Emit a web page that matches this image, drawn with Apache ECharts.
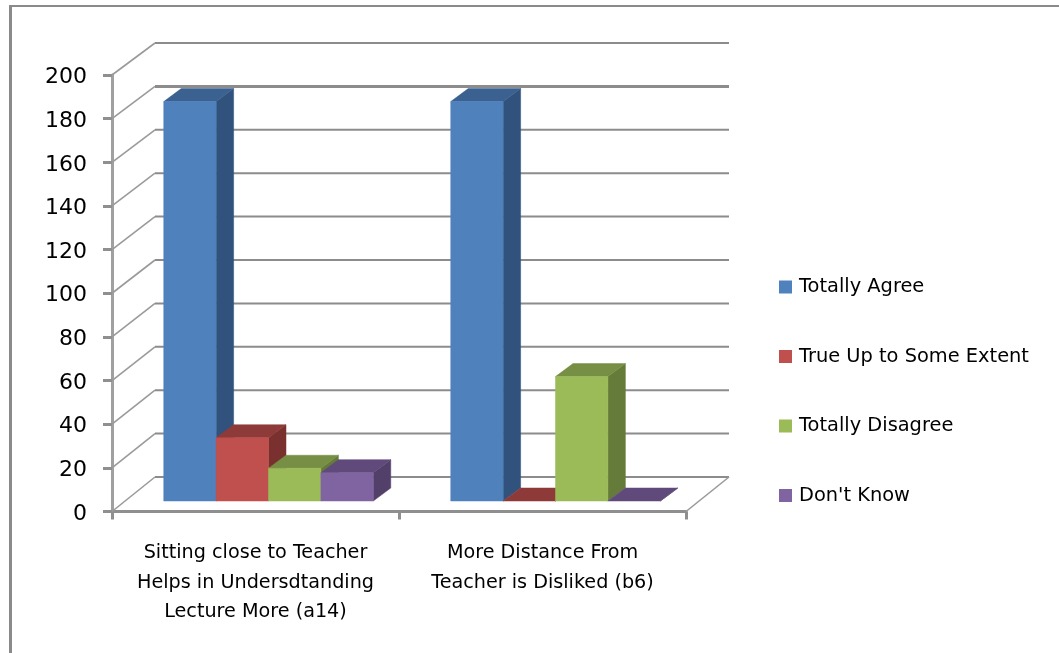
<!DOCTYPE html>
<html><head><meta charset="utf-8">
<style>html,body{margin:0;padding:0;background:#fff}#c{width:1059px;height:653px}</style>
<script src="https://cdn.jsdelivr.net/npm/echarts@6/dist/echarts.min.js"></script>
</head><body><div id="c"></div>
<script>
const categories = ["Sitting close to Teacher\nHelps in Undersdtanding\nLecture More (a14)", "More Distance From\nTeacher is Disliked (b6)"];
const totallyAgree = [183, 183];
const trueUpToSomeExtent = [29, 0];
const totallyDisagree = [15, 57];
const dontKnow = [13, 0];
const seriesNames = ["Totally Agree", "True Up to Some Extent", "Totally Disagree", "Don't Know"];
const yTicks = [0, 20, 40, 60, 80, 100, 120, 140, 160, 180, 200];

const FONT = '"DejaVu Sans"';
const palette = [
  {front:'#4F81BD', side:'#31527C', top:'#3B6190'},
  {front:'#C0504D', side:'#7A302E', top:'#8E3A38'},
  {front:'#9BBB59', side:'#657B39', top:'#768F45'},
  {front:'#8064A2', side:'#53406A', top:'#604A7B'}
];
const wallDx = 43, wallDy = -32;          // wall depth
const wallSquash = 2.5;                   // back wall is slightly shorter than the front plane
const barShiftX = 13, barShiftY = -10.5;  // bar position in depth
const barDx = 17.5, barDy = -13;          // bar depth
const barRatio = 0.1825;

function poly(points, fill){
  return {type:'polygon', shape:{points}, style:{fill, stroke:fill, lineWidth:0.5}};
}
function barRenderer(si){
  return function(params, api){
    const idx = api.value(0), val = api.value(1);
    const c0 = api.coord([idx, 0]), c1 = api.coord([idx, val]);
    const w = api.size([1, 0])[0] * barRatio;
    const x0 = c0[0] - 2*w + barShiftX + si*w, x1 = x0 + w;
    const yb = c0[1] + barShiftY, yt = c1[1] + barShiftY;
    const p = palette[si];
    const children = [
      poly([[x1,yb],[x1+barDx,yb+barDy],[x1+barDx,yt+barDy],[x1,yt]], p.side),
      poly([[x0,yt],[x1,yt],[x1+barDx,yt+barDy],[x0+barDx,yt+barDy]], p.top)
    ];
    if (yb - yt > 0.5) children.push(poly([[x0,yt],[x1,yt],[x1,yb],[x0,yb]], p.front));
    return {type:'group', children};
  };
}
function wallRenderer(params, api){
  const cs = params.coordSys;
  const v = api.value(0), y = api.coord([0, v])[1];
  const left = cs.x, right = cs.x + cs.width;
  const lw = (v === 180) ? 3 : 2;
  const lineStyle = {stroke:'#8c8c8c', lineWidth:lw};
  const diag = {stroke:'#9a9a9a', lineWidth:1.6};
  const backY = y + wallDy - wallSquash * (y - cs.y) / cs.height;
  const children = [
    {type:'line', shape:{x1:left, y1:y, x2:left+wallDx, y2:backY}, style:diag},
    {type:'line', shape:{x1:left+wallDx, y1:backY, x2:right+wallDx, y2:backY}, style:lineStyle}
  ];
  if (v === 0) children.push({type:'line', shape:{x1:right, y1:y, x2:right+wallDx, y2:backY}, style:diag});
  return {type:'group', children};
}
const barData = [totallyAgree, trueUpToSomeExtent, totallyDisagree, dontKnow];
const barSeries = seriesNames.map((name, si) => ({
  name, type:'custom', z:5 + si,
  itemStyle:{color:palette[si].front},
  encode:{x:0, y:1},
  renderItem: barRenderer(si),
  data: barData[si].map((v, i) => [i, v])
}));
const chart = echarts.init(document.getElementById('c'), null, {renderer:'canvas'});
chart.setOption({
  animation:false,
  backgroundColor:'#fff',
  textStyle:{fontFamily:FONT},
  grid:{left:112, top:75, width:574, height:436.5, containLabel:false},
  xAxis:{type:'category', data:categories,
    boundaryGap:true,
    axisLine:{show:true, lineStyle:{color:'#8f8f8f', width:3}},
    axisTick:{show:true, alignWithLabel:false, length:8, lineStyle:{color:'#8f8f8f', width:3}},
    axisLabel:{color:'#000', fontFamily:FONT, fontSize:19.2, lineHeight:29.5, margin:27, interval:0}
  },
  yAxis:{type:'value', min:0, max:200, interval:20,
    axisLine:{show:true, lineStyle:{color:'#a0a0a0', width:3}},
    axisTick:{show:true, length:9, lineStyle:{color:'#8f8f8f', width:3}},
    axisLabel:{color:'#000', fontFamily:FONT, fontSize:22, margin:25, formatter:'{a|{value}}',
      rich:{a:{color:'#000', fontFamily:FONT, fontSize:22, padding:[5,0,0,0]}}},
    splitLine:{show:false}
  },
  legend:{show:true, orient:'vertical', left:774, top:271, itemWidth:13, itemHeight:13, itemGap:47.5,
    data:seriesNames, selectedMode:false, icon:'rect',
    textStyle:{color:'#000', fontFamily:FONT, fontSize:19.4, lineHeight:22, padding:[0,0,0,2]}
  },
  graphic:[
    {type:'rect', silent:true, shape:{x:9,y:5,width:1050,height:2}, style:{fill:'#8a8a8a'}},
    {type:'rect', silent:true, shape:{x:9,y:5,width:3,height:648}, style:{fill:'#8a8a8a'}}
  ],
  series:[
    {name:'walls', type:'custom', z:1, encode:{y:0}, renderItem:wallRenderer, data:yTicks.map(v=>[v])},
    ...barSeries
  ]
});
</script></body></html>
